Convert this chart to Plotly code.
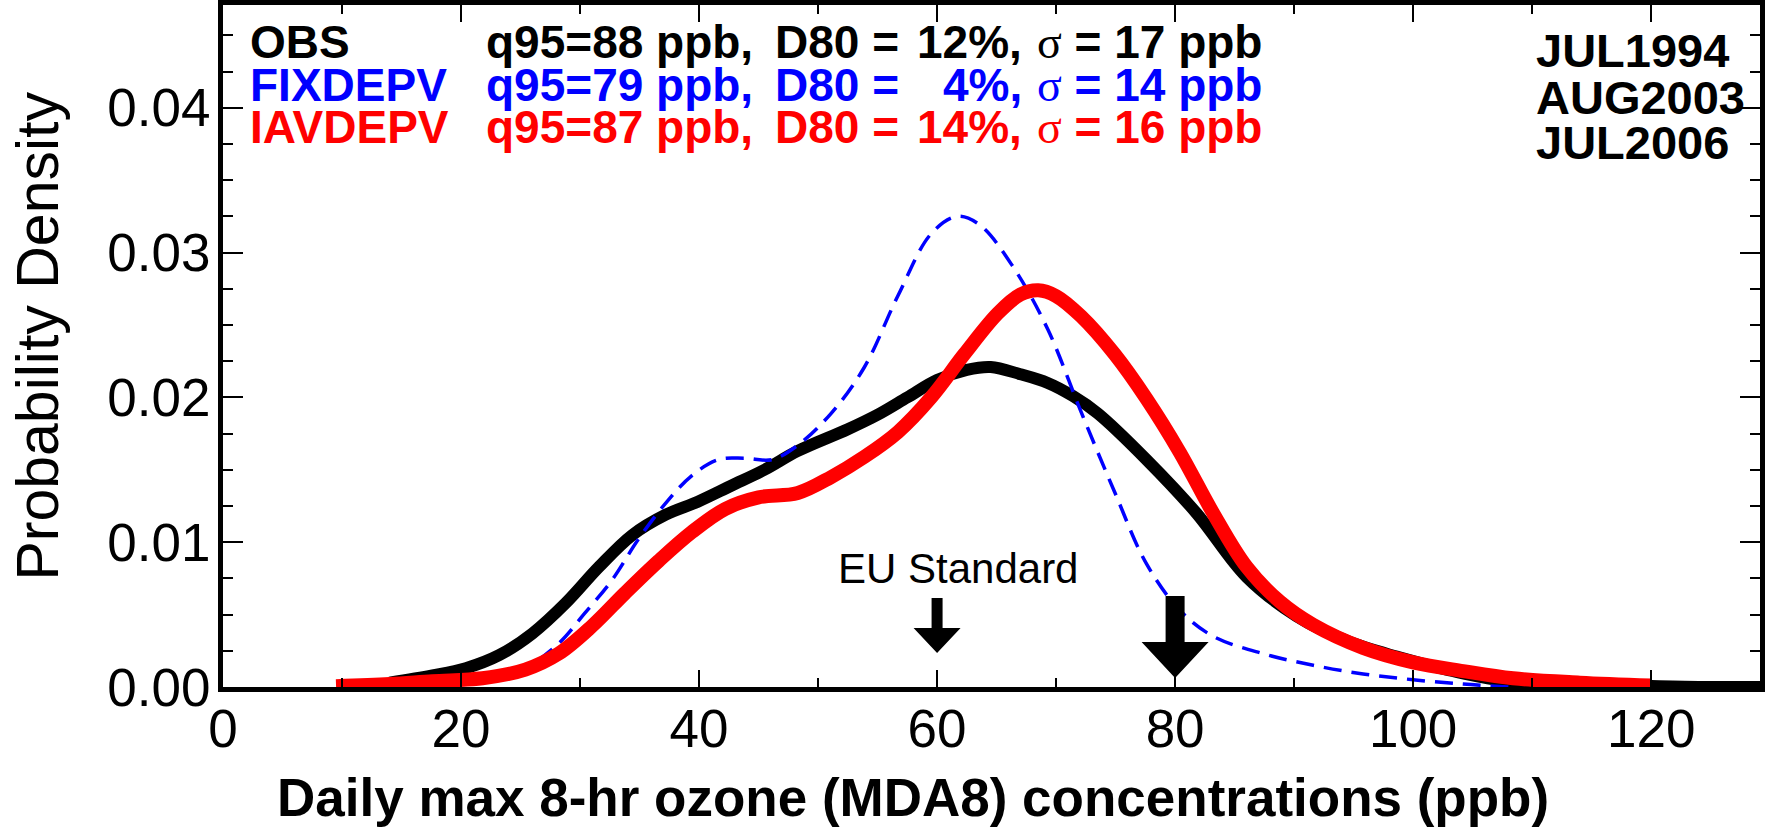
import plotly.graph_objects as go

# ---------------- data ----------------
obs_x = [14, 17.6, 20.4, 23.2, 26.0, 28.8, 31.6, 34.4, 37.2, 39.9, 42.7, 45.5, 48.3,
         52.5, 55.0, 57.5, 60.0, 62.5, 64.5, 67.0, 69.3, 71.4, 73.5, 77.6, 81.8, 86.0,
         90.2, 94.4, 98.6, 102.8, 107.0, 112, 118, 124, 130]
obs_y = [0.0003, 0.0008, 0.0013, 0.0022, 0.0037, 0.0058, 0.0083, 0.0105, 0.0119, 0.0128,
         0.0139, 0.0150, 0.0163, 0.0178, 0.0188, 0.0200, 0.0212, 0.0219, 0.0221, 0.0216,
         0.0210, 0.0201, 0.0189, 0.0157, 0.0120, 0.0076, 0.0049, 0.0032, 0.0021, 0.0012,
         0.0005, 0.0002, 0.0001, 0.0, 0.0]

fix_x = [15, 20, 23, 25.7, 28.2, 30.4, 32.7, 34.9, 37.2, 39.4, 41.6, 43.8, 46.1, 48.3,
         51.1, 53.9, 56.7, 59.5, 61.7, 63.6, 66.4, 69.3, 72.1, 74.9, 77.6, 80.4, 83.2,
         87.4, 91.6, 95.8, 100.0, 104.2, 108]
fix_y = [0.0001, 0.0004, 0.0009, 0.0015, 0.0030, 0.0051, 0.0074, 0.0102, 0.0127, 0.0146,
         0.0157, 0.0158, 0.0157, 0.0167, 0.0189, 0.0221, 0.0270, 0.0313, 0.0325, 0.0319,
         0.0290, 0.0247, 0.0190, 0.0135, 0.0085, 0.0053, 0.0035, 0.0023, 0.0015, 0.0009,
         0.0005, 0.0002, 0.0]

iav_x = [9.5, 14, 17.6, 21.8, 25.4, 28.2, 31.0, 33.8, 36.6, 39.4, 42.2, 45.0, 48.3, 51.1,
         53.9, 56.7, 59.5, 62.3, 65.1, 67.0, 68.5, 70.0, 72.1, 74.9, 77.6, 80.4, 83.2,
         86.0, 88.8, 91.6, 95.8, 100.0, 104.2, 108.4, 114, 120]
iav_y = [0.00005, 0.0002, 0.0004, 0.0006, 0.0012, 0.0023, 0.0042, 0.0065, 0.0087, 0.0107,
         0.0123, 0.0131, 0.0134, 0.0145, 0.0159, 0.0176, 0.0200, 0.0230, 0.0258, 0.0271,
         0.0274, 0.0270, 0.0256, 0.0230, 0.0199, 0.0162, 0.0120, 0.0083, 0.0059, 0.0043,
         0.0027, 0.0017, 0.0011, 0.0006, 0.0003, 0.0001]

run_names = ["OBS", "FIXDEPV", "IAVDEPV"]
run_colors = ["black", "blue", "red"]
q95_vals = [88, 79, 87]
d80_vals = [12, 4, 14]
sigma_vals = [17, 14, 16]
months = ["JUL1994", "AUG2003", "JUL2006"]

eu_standard = 60
threshold_80 = 80

x_ticks = [0, 20, 40, 60, 80, 100, 120]
y_ticks = [0.00, 0.01, 0.02, 0.03, 0.04]

# ---------------- layout geometry ----------------
W, H = 1765, 827
L, R, T, B = 223, 0, 5, 140
PW, PH = W - L - R, H - T - B
PPB_PX = 11.94       # pixels per ppb
DENS_PX = 14480.0    # pixels per unit density


def px(x):
    return (x - L) / PW


def py(y):
    return (H - B - y) / PH


FONT = "Liberation Sans, Arial, Helvetica, sans-serif"
SERIF = "Liberation Serif, Times New Roman, serif"

fig = go.Figure()
fig.add_trace(go.Scatter(x=obs_x, y=obs_y, mode="lines", name="OBS",
                         line=dict(color="black", width=12, shape="spline", smoothing=1.0)))
fig.add_trace(go.Scatter(x=fix_x, y=fix_y, mode="lines", name="FIXDEPV",
                         line=dict(color="blue", width=3.5, dash="18px,10px",
                                   shape="spline", smoothing=1.0)))
fig.add_trace(go.Scatter(x=iav_x, y=iav_y, mode="lines", name="IAVDEPV",
                         line=dict(color="red", width=14, shape="spline", smoothing=1.0)))

# arrows (pixel-sized paths anchored at the data x positions)
small_arrow = "M -5.5,89 L 5.5,89 L 5.5,59 L 23.5,59 L 0,34 L -23.5,59 L -5.5,59 Z"
big_arrow = "M -9.5,91 L 9.5,91 L 9.5,45 L 33.5,45 L 0,9 L -33.5,45 L -9.5,45 Z"
shapes = []
for xa, p in [(eu_standard, small_arrow), (threshold_80, big_arrow)]:
    shapes.append(dict(type="path", xref="x", yref="y", xsizemode="pixel",
                       ysizemode="pixel", xanchor=xa, yanchor=0, path=p,
                       fillcolor="black", line=dict(width=0), layer="above"))

annotations = []
row_y = [41.7, 85, 127.5]
for i in range(3):
    c = run_colors[i]
    f = dict(family=FONT, size=46, color=c)
    yy = py(row_y[i])
    annotations.append(dict(text=f"<b>{run_names[i]}</b>", x=px(248), y=yy, xref="paper",
                            yref="paper", xanchor="left", yanchor="middle",
                            showarrow=False, font=f))
    annotations.append(dict(text=f"<b>q95={q95_vals[i]} ppb,</b>", x=px(485), y=yy,
                            xref="paper", yref="paper", xanchor="left", yanchor="middle",
                            showarrow=False, font=f))
    annotations.append(dict(text="<b>D80 =</b>", x=px(775), y=yy, xref="paper",
                            yref="paper", xanchor="left", yanchor="middle",
                            showarrow=False, font=f))
    annotations.append(dict(text=f"<b>{d80_vals[i]}%,</b>", x=px(1027), y=yy,
                            xref="paper", yref="paper", xanchor="right", yanchor="middle",
                            showarrow=False, font=f))
    annotations.append(dict(text=f"<span style='font-family:{SERIF}'>σ</span>"
                                 f"<b> = {sigma_vals[i]} ppb</b>",
                            x=px(1038), y=yy, xref="paper", yref="paper",
                            xanchor="left", yanchor="middle", showarrow=False, font=f))

month_y = [50, 97, 142]
for m, yv in zip(months, month_y):
    annotations.append(dict(text=f"<b>{m}</b>", x=px(1538), y=py(yv), xref="paper",
                            yref="paper", xanchor="left", yanchor="middle",
                            showarrow=False, font=dict(family=FONT, size=47, color="black")))

annotations.append(dict(text="EU Standard", x=px(960), y=py(568.5), xref="paper",
                        yref="paper", xanchor="center", yanchor="middle", showarrow=False,
                        font=dict(family=FONT, size=42, color="black")))
annotations.append(dict(text="<b>Daily max 8-hr ozone (MDA8) concentrations (ppb)</b>",
                        x=px(915), y=py(797), xref="paper", yref="paper",
                        xanchor="center", yanchor="middle", showarrow=False,
                        font=dict(family=FONT, size=53, color="black")))
annotations.append(dict(text="Probability Density", x=px(37), y=py(336), xref="paper",
                        yref="paper", xanchor="center", yanchor="middle", textangle=-90,
                        showarrow=False, font=dict(family=FONT, size=59, color="black")))

fig.update_layout(
    width=W, height=H,
    margin=dict(l=L, r=R, t=T, b=B, pad=0),
    paper_bgcolor="white", plot_bgcolor="white",
    showlegend=False,
    shapes=shapes,
    annotations=annotations,
    xaxis=dict(range=[0, PW / PPB_PX], showline=True, linewidth=5, linecolor="black",
               mirror="ticks", ticks="inside", ticklen=17, tickwidth=2, tickcolor="black",
               tickvals=x_ticks, ticktext=[str(v) for v in x_ticks],
               tickfont=dict(family=FONT, size=53, color="black"),
               showgrid=False, zeroline=False, ticklabelstandoff=-9,
               minor=dict(ticks="inside", dtick=10, tick0=0, ticklen=9, tickwidth=2,
                          tickcolor="black", showgrid=False)),
    yaxis=dict(range=[0, PH / DENS_PX], showline=True, linewidth=5, linecolor="black",
               mirror="ticks", ticks="inside", ticklen=20, tickwidth=2, tickcolor="black",
               tickvals=y_ticks, ticktext=[f"{v:.2f}" for v in y_ticks],
               tickfont=dict(family=FONT, size=53, color="black"),
               showgrid=False, zeroline=False, ticklabelstandoff=-3,
               minor=dict(ticks="inside", dtick=0.0025, tick0=0, ticklen=10, tickwidth=2,
                          tickcolor="black", showgrid=False)),
)

fig.write_html("out.html")
